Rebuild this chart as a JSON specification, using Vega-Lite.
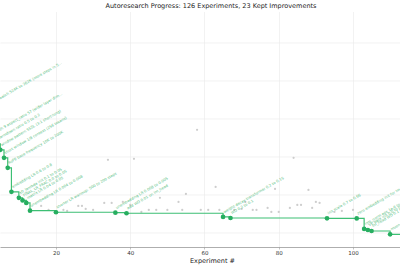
{
  "$schema": "https://vega.github.io/schema/vega-lite/v6.json",
  "width": 400,
  "height": 235.5,
  "autosize": {"type": "none"},
  "padding": {"left": 0, "right": 0, "top": 11.5, "bottom": 19},
  "background": "white",
  "config": {"view": {"stroke": null}, "font": "DejaVu Sans"},
  "title": {"text": "Autoresearch Progress: 126 Experiments, 23 Kept Improvements", "fontSize": 6.5, "font": "DejaVu Sans", "fontWeight": "normal", "color": "#222222", "dx": 11, "offset": 2},
  "datasets": {
    "kept": [
      {"exp": 0, "bpb": 0.99900, "desc": "baseline"},
      {"exp": 2, "bpb": 0.99132, "desc": "halve batch 524K to 262K (more steps in 5..."},
      {"exp": 3, "bpb": 0.98750, "desc": "depth 9 aspect_ratio 57 (wider layer dim..."},
      {"exp": 4, "bpb": 0.98671, "desc": "warmdown ratio 0.5 to 0.2"},
      {"exp": 5, "bpb": 0.98592, "desc": "window pattern SSSL (3:1 short:long)"},
      {"exp": 6, "bpb": 0.98487, "desc": "short window 1/8 context (256 tokens)"},
      {"exp": 7, "bpb": 0.98355, "desc": "RoPE base frequency 10K to 200K"},
      {"exp": 8, "bpb": 0.98040, "desc": "embedding LR 0.6 to 0.8"},
      {"exp": 10, "bpb": 0.97961, "desc": "x0_lambda init 0.1 to 0.05"},
      {"exp": 11, "bpb": 0.97928, "desc": "FINAL_LR_FRAC 0.0 to 0.05"},
      {"exp": 12, "bpb": 0.97895, "desc": "matrix LR 0.04 to 0.05"},
      {"exp": 13, "bpb": 0.97793, "desc": "unembedding LR 0.004 to 0.008"},
      {"exp": 20, "bpb": 0.97772, "desc": "shorter LR warmup: 500 to 200 steps"},
      {"exp": 36, "bpb": 0.97767, "desc": "unembedding LR 0.008 to 0.005"},
      {"exp": 39, "bpb": 0.97759, "desc": "add WD 0.01 on lm_head"},
      {"exp": 65, "bpb": 0.97711, "desc": "weight decay transformer 0.2 to 0.15"},
      {"exp": 67, "bpb": 0.97697, "desc": "WD 0.2 to 0.1"},
      {"exp": 93, "bpb": 0.97693, "desc": "init scale 0.7 to 0.66"},
      {"exp": 101, "bpb": 0.97691, "desc": "zero embedding init for lm_head"},
      {"exp": 103, "bpb": 0.97553, "desc": "rms_norm eps 1e-6 to 1e-5"},
      {"exp": 104, "bpb": 0.97539, "desc": "VE gate init 0.0 to 0.5"},
      {"exp": 105, "bpb": 0.97526, "desc": "lm_head WD 0.1 to 0.05"},
      {"exp": 110, "bpb": 0.97483, "desc": "muon ns_steps 5 to 4"}
    ],
    "frontier": [
      {"exp": 0, "bpb": 0.99900},
      {"exp": 2, "bpb": 0.99132},
      {"exp": 3, "bpb": 0.98750},
      {"exp": 4, "bpb": 0.98671},
      {"exp": 5, "bpb": 0.98592},
      {"exp": 6, "bpb": 0.98487},
      {"exp": 7, "bpb": 0.98355},
      {"exp": 8, "bpb": 0.98040},
      {"exp": 10, "bpb": 0.97961},
      {"exp": 11, "bpb": 0.97928},
      {"exp": 12, "bpb": 0.97895},
      {"exp": 13, "bpb": 0.97793},
      {"exp": 20, "bpb": 0.97772},
      {"exp": 36, "bpb": 0.97767},
      {"exp": 39, "bpb": 0.97759},
      {"exp": 65, "bpb": 0.97711},
      {"exp": 67, "bpb": 0.97697},
      {"exp": 93, "bpb": 0.97693},
      {"exp": 101, "bpb": 0.97691},
      {"exp": 103, "bpb": 0.97553},
      {"exp": 104, "bpb": 0.97539},
      {"exp": 105, "bpb": 0.97526},
      {"exp": 110, "bpb": 0.97483},
      {"exp": 126, "bpb": 0.97483}
    ],
    "discarded": [
      {"exp": 16, "bpb": 0.97855},
      {"exp": 18, "bpb": 0.97803},
      {"exp": 22, "bpb": 0.97803},
      {"exp": 23, "bpb": 0.97789},
      {"exp": 26, "bpb": 0.97855},
      {"exp": 27, "bpb": 0.97855},
      {"exp": 28, "bpb": 0.97816},
      {"exp": 30, "bpb": 0.97803},
      {"exp": 33, "bpb": 0.97895},
      {"exp": 34, "bpb": 0.98461},
      {"exp": 35, "bpb": 0.97895},
      {"exp": 38, "bpb": 0.97908},
      {"exp": 40, "bpb": 0.97868},
      {"exp": 41, "bpb": 0.98474},
      {"exp": 43, "bpb": 0.97776},
      {"exp": 45, "bpb": 0.97803},
      {"exp": 47, "bpb": 0.97803},
      {"exp": 48, "bpb": 0.97961},
      {"exp": 50, "bpb": 0.97803},
      {"exp": 53, "bpb": 0.97908},
      {"exp": 54, "bpb": 0.97803},
      {"exp": 55, "bpb": 0.98013},
      {"exp": 58, "bpb": 0.98855},
      {"exp": 59, "bpb": 0.97803},
      {"exp": 61, "bpb": 0.97803},
      {"exp": 63, "bpb": 0.98105},
      {"exp": 64, "bpb": 0.97803},
      {"exp": 68, "bpb": 0.97803},
      {"exp": 70, "bpb": 0.97816},
      {"exp": 71, "bpb": 0.97908},
      {"exp": 73, "bpb": 0.97803},
      {"exp": 74, "bpb": 0.97803},
      {"exp": 77, "bpb": 0.97829},
      {"exp": 78, "bpb": 0.97776},
      {"exp": 79, "bpb": 0.98079},
      {"exp": 80, "bpb": 0.97776},
      {"exp": 83, "bpb": 0.97829},
      {"exp": 84, "bpb": 0.98487},
      {"exp": 85, "bpb": 0.97868},
      {"exp": 86, "bpb": 0.97868},
      {"exp": 88, "bpb": 0.98066},
      {"exp": 89, "bpb": 0.97829},
      {"exp": 90, "bpb": 0.97908},
      {"exp": 91, "bpb": 0.97895},
      {"exp": 95, "bpb": 0.97776},
      {"exp": 97, "bpb": 0.97789},
      {"exp": 100, "bpb": 0.97803}
    ]
  },
  "layer": [
    {
      "data": {"name": "discarded"},
      "mark": {"type": "circle", "size": 5, "color": "#c8c8c8", "opacity": 0.9, "clip": true},
      "encoding": {
        "x": {"field": "exp", "type": "quantitative", "scale": {"domain": [4.92, 112.66], "nice": false, "zero": false},
          "axis": {"values": [20, 40, 60, 80, 100], "grid": true, "gridColor": "#ececec", "gridWidth": 0.7, "domainColor": "#999999", "domainWidth": 0.8, "ticks": true, "tickColor": "#999999", "tickSize": 2, "tickWidth": 0.6, "labelFontSize": 5.5, "labelColor": "#333333", "labelPadding": 1.5, "title": "Experiment #", "titleFontSize": 6.5, "titleFontWeight": "normal", "titleColor": "#222222", "titleX": 212, "titlePadding": 1.5}},
        "y": {"field": "bpb", "type": "quantitative", "scale": {"domain": [0.97316, 1.00408], "nice": false, "zero": false},
          "axis": {"values": [0.975, 0.98, 0.985, 0.99, 0.995, 1.0], "grid": true, "gridColor": "#ececec", "gridWidth": 0.7, "domain": false, "ticks": false, "labels": false, "title": null}}
      }
    },
    {
      "data": {"name": "frontier"},
      "mark": {"type": "line", "interpolate": "step-after", "color": "#3dbf74", "strokeWidth": 1.2, "clip": true},
      "encoding": {
        "x": {"field": "exp", "type": "quantitative"},
        "y": {"field": "bpb", "type": "quantitative"}
      }
    },
    {
      "data": {"name": "kept"},
      "mark": {"type": "circle", "size": 22, "color": "#27ae60", "opacity": 1, "clip": true},
      "encoding": {
        "x": {"field": "exp", "type": "quantitative"},
        "y": {"field": "bpb", "type": "quantitative"}
      }
    },
    {
      "data": {"name": "kept"},
      "mark": {"type": "text", "angle": -30, "align": "left", "baseline": "bottom", "dx": 3, "dy": -1.5, "fontSize": 3.7, "color": "#27ae60", "opacity": 0.8, "clip": true},
      "encoding": {
        "x": {"field": "exp", "type": "quantitative"},
        "y": {"field": "bpb", "type": "quantitative"},
        "text": {"field": "desc"}
      }
    },
    {
      "mark": {"type": "rule", "color": "#999999", "strokeWidth": 0.8},
      "encoding": {"y": {"datum": 1.00408}}
    }
  ]
}
